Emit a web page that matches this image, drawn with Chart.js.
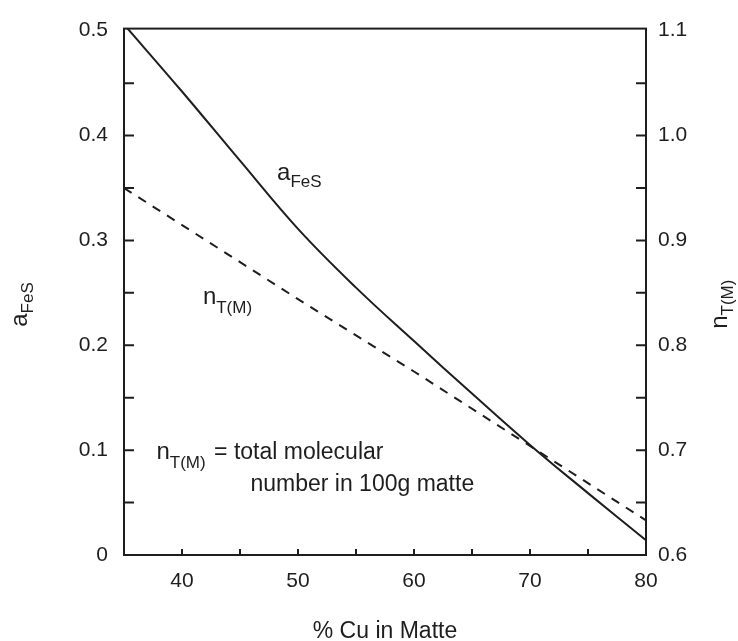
<!DOCTYPE html>
<html>
<head>
<meta charset="utf-8">
<script src="https://cdn.jsdelivr.net/npm/chart.js@4.4.1/dist/chart.umd.min.js"></script>
<style>
  html, body { margin: 0; padding: 0; background: #fff; }
  #wrap { width: 738px; height: 641px; }
</style>
</head>
<body>
<div id="wrap"><canvas id="chart" width="738" height="641"></canvas></div>
<script>
/* ================= DATA ================= */

// solid curve, left axis
const cuPercent = [35, 40, 45, 50, 55, 60, 65, 70, 75, 80];
const aFeS = [0.506, 0.442, 0.376, 0.311, 0.255, 0.204, 0.154, 0.105, 0.059, 0.014];

// dashed line, right axis
const cuDashed = [35, 50, 60, 70, 80];
const nTM = [0.950, 0.844, 0.775, 0.704, 0.633];

const xTicks = [40, 50, 60, 70, 80];
const xMarks = [40, 45, 50, 55, 60, 65, 70, 75];
const leftTicks = [0, 0.1, 0.2, 0.3, 0.4, 0.5];
const leftLabels = ["0", "0.1", "0.2", "0.3", "0.4", "0.5"];
const leftMarks = [0.05, 0.1, 0.15, 0.2, 0.25, 0.3, 0.35, 0.4, 0.45];
const rightTicks = [0.6, 0.7, 0.8, 0.9, 1.0, 1.1];
const rightLabels = ["0.6", "0.7", "0.8", "0.9", "1.0", "1.1"];
const rightMarks = [0.65, 0.7, 0.75, 0.8, 0.85, 0.9, 0.95, 1.0, 1.05];

const FONT = "'Liberation Sans', Arial, sans-serif";
const INK = "#1e1e1e";

/* ================= HELPERS ================= */

function subText(ctx, main, sub, x, y, size, subSize, dy) {
  ctx.font = size + "px " + FONT;
  ctx.fillText(main, x, y);
  const w = ctx.measureText(main).width;
  ctx.font = subSize + "px " + FONT;
  ctx.fillText(sub, x + w, y + dy);
  return w + ctx.measureText(sub).width;
}

/* ================= FRAME, INWARD TICKS, TEXT ================= */

const decor = {
  id: "decor",
  afterDatasetsDraw(chart) {
    const { ctx, chartArea: a, scales } = chart;
    ctx.save();
    ctx.strokeStyle = INK;
    ctx.lineWidth = 2;
    ctx.strokeRect(a.left, a.top, a.right - a.left, a.bottom - a.top);

    ctx.beginPath();
    leftMarks.forEach(v => {
      const y = scales.y.getPixelForValue(v);
      ctx.moveTo(a.left, y); ctx.lineTo(a.left + 10, y);
    });
    rightMarks.forEach(v => {
      const y = scales.y2.getPixelForValue(v);
      ctx.moveTo(a.right, y); ctx.lineTo(a.right - 10, y);
    });
    xMarks.forEach(v => {
      const x = scales.x.getPixelForValue(v);
      ctx.moveTo(x, a.bottom); ctx.lineTo(x, a.bottom - 6);
    });
    ctx.stroke();

    // labels inside the plot
    ctx.fillStyle = INK;
    ctx.textBaseline = "alphabetic";
    ctx.textAlign = "left";
    const px = v => scales.x.getPixelForValue(v);
    const py = v => scales.y.getPixelForValue(v);

    subText(ctx, "a", "FeS", px(48.2), py(0.358), 24, 17, 7);
    subText(ctx, "n", "T(M)", px(41.8), py(0.239), 24, 17, 9);

    const w = subText(ctx, "n", "T(M)", px(37.8), py(0.0916), 24, 17, 9);
    ctx.font = "23px " + FONT;
    ctx.fillText(" = total molecular", px(37.8) + w + 2, py(0.0916));
    ctx.fillText("number in 100g matte", px(45.9), py(0.0607));

    // axis titles
    ctx.font = "23px " + FONT;
    ctx.textAlign = "center";
    ctx.fillText("% Cu in Matte", (a.left + a.right) / 2, 638);

    const midY = (a.top + a.bottom) / 2 + 10;
    ctx.textAlign = "left";
    ctx.save();
    ctx.translate(27, midY + 25);
    ctx.rotate(-Math.PI / 2);
    subText(ctx, "a", "FeS", 0, 0, 24, 17, 6);
    ctx.restore();

    ctx.save();
    ctx.translate(727, midY + 27);
    ctx.rotate(-Math.PI / 2);
    subText(ctx, "n", "T(M)", 0, 0, 24, 17, 6);
    ctx.restore();

    ctx.restore();
  }
};

/* ================= CHART ================= */

const tickFont = { family: FONT, size: 21 };

new Chart(document.getElementById("chart"), {
  type: "scatter",
  data: {
    datasets: [
      {
        label: "aFeS",
        data: cuPercent.map((x, i) => ({ x, y: aFeS[i] })),
        yAxisID: "y",
        showLine: true,
        borderColor: INK,
        borderWidth: 2,
        pointRadius: 0,
        tension: 0.4
      },
      {
        label: "nT(M)",
        data: cuDashed.map((x, i) => ({ x, y: nTM[i] })),
        yAxisID: "y2",
        showLine: true,
        borderColor: INK,
        borderWidth: 2,
        borderDash: [9, 8],
        pointRadius: 0
      }
    ]
  },
  options: {
    responsive: false,
    animation: false,
    layout: { padding: { top: 18, left: 0, right: 0, bottom: 0 } },
    plugins: {
      legend: { display: false },
      tooltip: { enabled: false }
    },
    scales: {
      x: {
        type: "linear",
        min: 35,
        max: 80,
        afterBuildTicks: s => { s.ticks = xTicks.map(v => ({ value: v })); },
        afterFit: s => { s.height = 86; },
        grid: { display: false, drawTicks: false },
        border: { display: false },
        ticks: { padding: 14, font: tickFont, color: INK, maxRotation: 0 }
      },
      y: {
        position: "left",
        min: 0,
        max: 0.502,
        afterBuildTicks: s => { s.ticks = leftTicks.map(v => ({ value: v })); },
        afterFit: s => { s.width = 124; },
        grid: { display: false, drawTicks: false },
        border: { display: false },
        ticks: { padding: 16, font: tickFont, color: INK, callback: (v, i) => leftLabels[i] }
      },
      y2: {
        position: "right",
        min: 0.6,
        max: 1.102,
        afterBuildTicks: s => { s.ticks = rightTicks.map(v => ({ value: v })); },
        afterFit: s => { s.width = 92; },
        grid: { display: false, drawTicks: false },
        border: { display: false },
        ticks: { padding: 12, font: tickFont, color: INK, callback: (v, i) => rightLabels[i] }
      }
    }
  },
  plugins: [decor]
});
</script>
</body>
</html>
